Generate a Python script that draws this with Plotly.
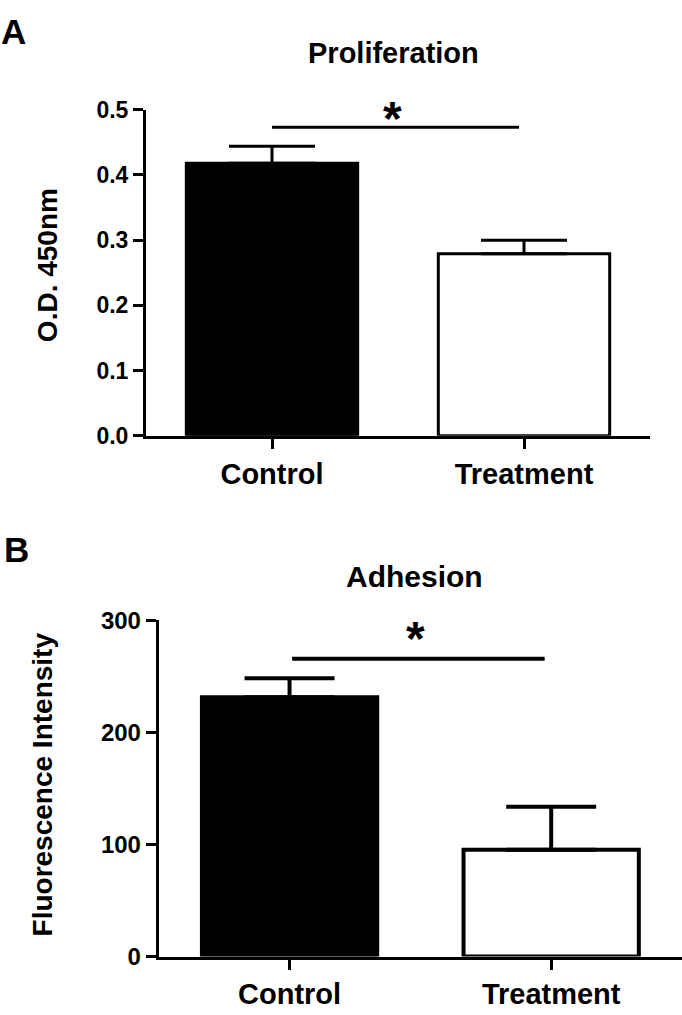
import plotly.graph_objects as go

# ---------------- data ----------------
categories = ["Control", "Treatment"]

prolif_means = [0.418, 0.279]
prolif_err = [0.026, 0.021]
prolif_sig = [0.0, 0.98, 0.473]   # x0, x1, y of significance bar

adhesion_means = [231.5, 95.3]
adhesion_err = [17.0, 38.3]
adhesion_sig = [0.01, 0.975, 265.8]

bar_colors = ["black", "white"]
prolif_ticks = [0.0, 0.1, 0.2, 0.3, 0.4, 0.5]
adhesion_ticks = [0, 100, 200, 300]

W, H = 682, 1015
FONT = "Liberation Sans, Arial, Helvetica, sans-serif"


def px_x(x):
    return x / W


def px_y(y):
    return 1 - y / H


fig = go.Figure()

fig.add_trace(go.Bar(
    x=categories, y=prolif_means, width=0.68,
    marker=dict(color=bar_colors, line=dict(color="black", width=3)),
    error_y=dict(type="data", symmetric=False, array=prolif_err, arrayminus=[0, 0],
                 color="black", thickness=3, width=43),
    xaxis="x", yaxis="y", showlegend=False,
))

fig.add_trace(go.Bar(
    x=categories, y=adhesion_means, width=0.67,
    marker=dict(color=bar_colors, line=dict(color="black", width=4)),
    error_y=dict(type="data", symmetric=False, array=adhesion_err, arrayminus=[0, 0],
                 color="black", thickness=4, width=45),
    xaxis="x2", yaxis="y2", showlegend=False,
))

axis_common = dict(
    showline=True, linecolor="black", linewidth=3,
    ticks="outside", ticklen=10, tickwidth=3, tickcolor="black",
    showgrid=False, zeroline=False, fixedrange=True,
)

fig.update_layout(
    width=W, height=H,
    margin=dict(l=0, r=0, t=0, b=0),
    paper_bgcolor="white", plot_bgcolor="white",
    showlegend=False,
    xaxis=dict(**axis_common, domain=[px_x(146), px_x(650)], range=[-0.5, 1.5],
               anchor="y", tickfont=dict(family=FONT, size=29, color="black", weight="bold")),
    yaxis=dict(**axis_common, domain=[px_y(433.3), px_y(98.3)], range=[0, 0.5],
               anchor="x", tickvals=prolif_ticks, tickformat=".1f",
               tickfont=dict(family=FONT, size=23, color="black", weight="bold")),
    xaxis2=dict(**axis_common, domain=[px_x(158.75), 1.0], range=[-0.5, 1.5],
                anchor="y2", tickfont=dict(family=FONT, size=29, color="black", weight="bold")),
    yaxis2=dict(**axis_common, domain=[px_y(968.3), px_y(623)], range=[0, 300],
                anchor="x2", tickvals=adhesion_ticks,
                tickfont=dict(family=FONT, size=24, color="black", weight="bold")),
)

# significance bars
fig.add_shape(type="line", xref="x", yref="y",
              x0=prolif_sig[0], x1=prolif_sig[1], y0=prolif_sig[2], y1=prolif_sig[2],
              line=dict(color="black", width=3))
fig.add_shape(type="line", xref="x2", yref="y2",
              x0=adhesion_sig[0], x1=adhesion_sig[1], y0=adhesion_sig[2], y1=adhesion_sig[2],
              line=dict(color="black", width=4))


def text(x, y, s, size, angle=0):
    fig.add_annotation(x=px_x(x), y=px_y(y), xref="paper", yref="paper",
                       text=s, showarrow=False, textangle=angle,
                       xanchor="center", yanchor="middle",
                       font=dict(family=FONT, size=size, color="black", weight="bold"))


text(13, 17.5, "A", 35)
text(16, 550.5, "B", 35)
text(393.5, 40.5, "Proliferation", 29)
text(414, 577.5, "Adhesion", 30)
text(47, 258, "O.D. 450nm", 28, angle=-90)
text(42, 791.5, "Fluorescence Intensity", 28, angle=-90)
text(392, 107, "*", 48)
text(415, 642, "*", 48)

fig.write_html(
    "out.html",
    config={"displayModeBar": False},
    post_script="document.body.style.margin='0';document.body.style.overflow='hidden';",
)
